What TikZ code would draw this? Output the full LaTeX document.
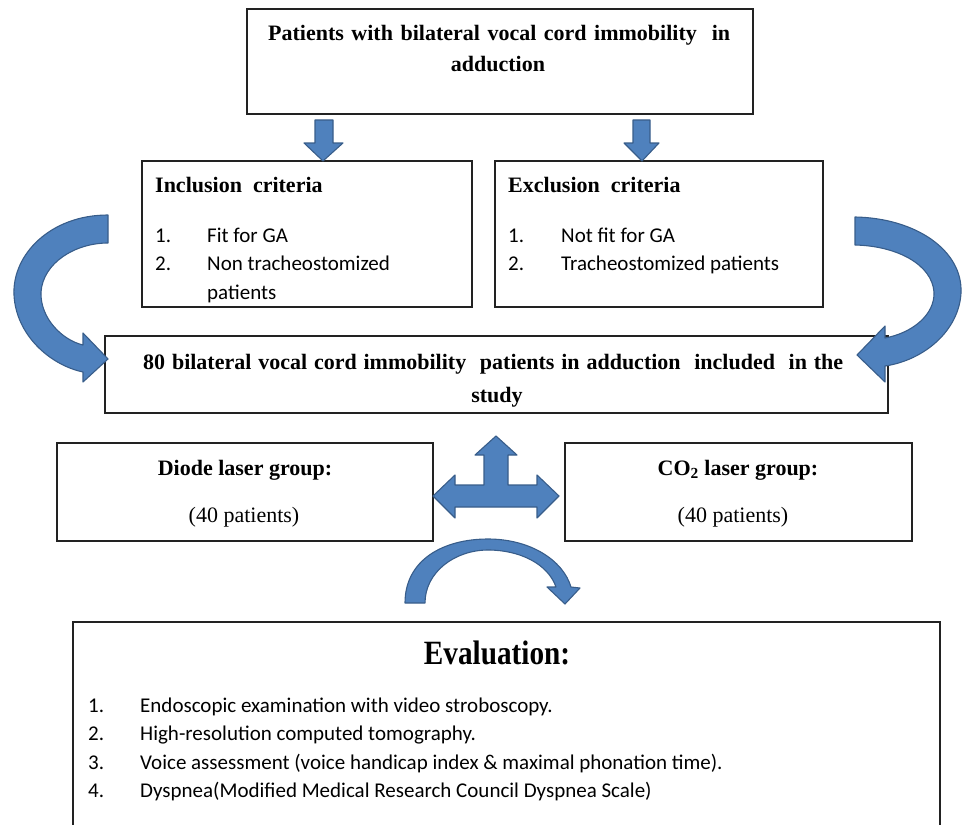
\documentclass[tikz,border=0pt]{standalone}
\usepackage{fontspec}
\setmainfont{Liberation Serif}
\newfontfamily\calfont{Carlito}
\usepackage{graphicx}
\definecolor{ablue}{HTML}{4F81BD}
\definecolor{aborder}{HTML}{385D8A}
\definecolor{boxline}{HTML}{222222}
\begin{document}
\begin{tikzpicture}[x=1pt,y=-1pt,
  box/.style={draw=boxline, line width=1.4pt, rectangle, inner sep=0pt, outer sep=0pt, anchor=north west},
  arrowshape/.style={fill=ablue, draw=aborder, line width=1.1pt, line join=round},
  bt/.style={inner sep=0pt, font=\fontsize{22}{26}\selectfont\bfseries},
  rt/.style={inner sep=0pt, font=\fontsize{22}{26}\selectfont},
  ct/.style={inner sep=0pt, anchor=base west, font=\calfont\fontsize{21}{25}\selectfont}]
\useasboundingbox (0,0) rectangle (963,824);

% boxes
\node[box, minimum width=506pt, minimum height=105pt] (top) at (247,9) {};
\node[box, minimum width=330pt, minimum height=146pt] (inc) at (142,161) {};
\node[box, minimum width=328pt, minimum height=146pt] (exc) at (495,161) {};
\node[box, minimum width=783pt, minimum height=77pt] (study) at (105,336) {};
\node[box, minimum width=376pt, minimum height=98pt] (diode) at (57,443) {};
\node[box, minimum width=347pt, minimum height=98pt] (co2) at (565,443) {};
\node[box, minimum width=867pt, minimum height=215pt] (eval) at (73,622) {};

% top text
\node[bt, anchor=base west] (t1) at (268,41) {\makebox[462pt][s]{Patients with bilateral vocal cord immobility \ in}};
\node[bt, anchor=base] (t2) at (498,72) {adduction};

% inclusion
\node[bt, anchor=base west] (ih) at (155,192) {Inclusion\ \ criteria};
\node[ct] (i1n) at (155,242) {1.};
\node[ct] (i1) at (207,242) {Fit for GA};
\node[ct] (i2n) at (155,270) {2.};
\node[ct] (i2) at (207,270) {Non tracheostomized};
\node[ct] (i3) at (207,299) {patients};

% exclusion
\node[bt, anchor=base west] (eh) at (508,192) {Exclusion\ \ criteria};
\node[ct] (e1n) at (508,242) {1.};
\node[ct] (e1) at (561,242) {Not fit for GA};
\node[ct] (e2n) at (508,270) {2.};
\node[ct] (e2) at (561,270) {Tracheostomized patients};

% study
\node[bt, anchor=base west] (s1) at (143,369) {\makebox[700pt][s]{80 bilateral vocal cord immobility \ patients in adduction \ included \ in the}};
\node[bt, anchor=base] (s2) at (497,402) {study};

% groups
\node[bt, anchor=base] (d1) at (245,475) {Diode laser group:};
\node[rt, anchor=base] (d2) at (244,522) {(40 patients)};
\node[bt, anchor=base] (c1) at (738,475) {CO\textsubscript{2} laser group:};
\node[rt, anchor=base] (c2) at (733,522) {(40 patients)};

% evaluation
\node[inner sep=0pt, anchor=base] (evt) at (497,664) {\scalebox{0.86}[1]{\fontsize{34}{40}\selectfont\bfseries Evaluation:}};
\node[ct] (v1n) at (88,712) {1.};
\node[ct] (v1) at (140,712) {Endoscopic examination with video stroboscopy.};
\node[ct] (v2n) at (88,740) {2.};
\node[ct] (v2) at (140,740) {High-resolution computed tomography.};
\node[ct] (v3n) at (88,769) {3.};
\node[ct] (v3) at (140,769) {Voice assessment (voice handicap index \& maximal phonation time).};
\node[ct] (v4n) at (88,797) {4.};
\node[ct] (v4) at (140,797) {Dyspnea(Modified Medical Research Council Dyspnea Scale)};

% small down arrows
\path[arrowshape] (315,120) -- (333,120) -- (333,143) -- (343,143) -- (323,161) -- (304,143) -- (315,143) -- cycle;
\path[arrowshape] (633,120) -- (650,120) -- (650,143) -- (659,143) -- (642,161) -- (624,143) -- (633,143) -- cycle;

% left curved arrow
\path[arrowshape] (108,215) .. controls (50,215) and (12,255) .. (14,295)
  .. controls (16,335) and (50,365) .. (83,372) -- (83,382) -- (108,359) -- (83,333) -- (83,345)
  .. controls (62,340) and (40,318) .. (41,292) .. controls (43,263) and (75,243) .. (108,243) -- cycle;

% right curved arrow
\path[arrowshape] (855,217) .. controls (915,218) and (963,250) .. (961,293)
  .. controls (959,330) and (925,360) .. (885,366) -- (885,382) -- (857,355) -- (885,326) -- (885,338)
  .. controls (912,333) and (935,315) .. (934,292) .. controls (932,265) and (898,246) .. (855,245) -- cycle;

% T arrow
\path[arrowshape] (433,496) -- (455,475) -- (455,485) -- (484,485) -- (484,455) -- (475,455) -- (496,436)
  -- (517,455) -- (508,455) -- (508,485) -- (537,485) -- (537,475) -- (559,496) -- (537,518)
  -- (537,507) -- (455,507) -- (455,518) -- cycle;

% bottom arc arrow
\path[arrowshape] (405,603) .. controls (405,560) and (443,539) .. (488,539)
  .. controls (530,539) and (563,560) .. (571,587) -- (580,588) -- (565,604) -- (547,587) -- (556,587)
  .. controls (548,564) and (520,550) .. (488,550) .. controls (455,550) and (425,572) .. (425,603) -- cycle;
\end{tikzpicture}
\end{document}
